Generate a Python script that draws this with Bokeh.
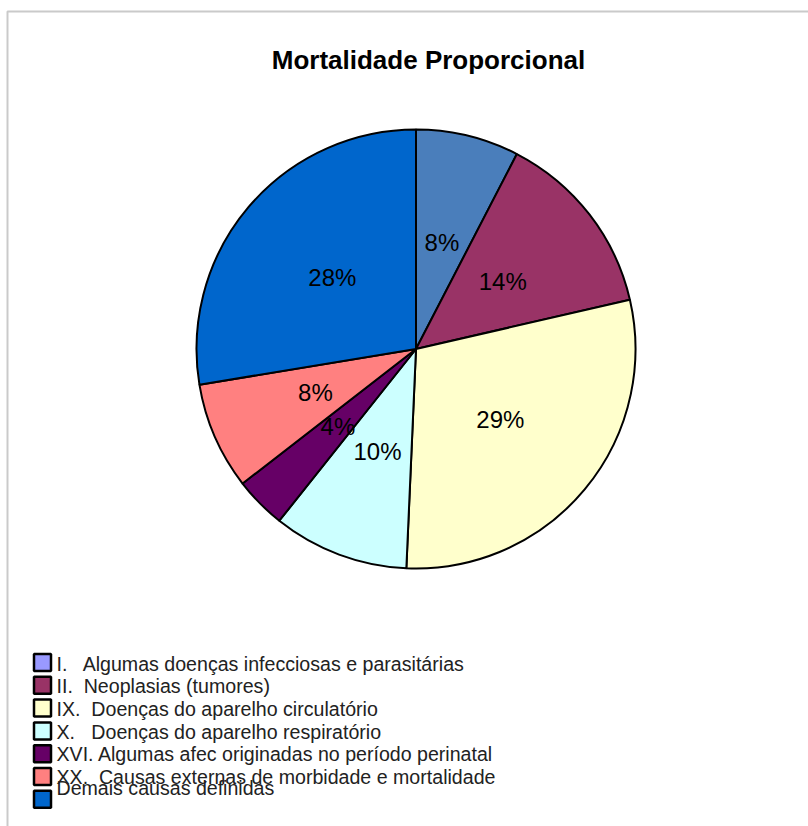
import math
import re
from bokeh.plotting import figure
from bokeh.models import Range1d, ColumnDataSource
from bokeh.core.properties import value
from bokeh.embed import file_html
from bokeh.resources import INLINE

# ---- data ----
title = "Mortalidade Proporcional"
categories = [
    "I.   Algumas doenças infecciosas e parasitárias",
    "II.  Neoplasias (tumores)",
    "IX.  Doenças do aparelho circulatório",
    "X.   Doenças do aparelho respiratório",
    "XVI. Algumas afec originadas no período perinatal",
    "XX.  Causas externas de morbidade e mortalidade",
    "Demais causas definidas",
]
shares = [7.6, 13.8, 29.3, 10.0, 3.8, 7.9, 27.6]
slice_colors = ["#4A7EBB", "#993366", "#FFFFCC", "#CCFFFF", "#660066", "#FF8080", "#0066CC"]
legend_colors = ["#9999FF", "#993366", "#FFFFCC", "#CCFFFF", "#660066", "#FF8080", "#0066CC"]

W, H = 808, 826
FONT = "Liberation Sans"

def Y(py):
    return H - py

def keep_spaces(s):
    # keep runs of spaces visible in SVG text
    return re.sub(r" {2,}", lambda m: "\u00a0" * (len(m.group(0)) - 1) + " ", s)

p = figure(width=W, height=H, x_range=Range1d(0, W), y_range=Range1d(0, H),
           x_axis_type=None, y_axis_type=None, toolbar_location=None,
           output_backend="svg", min_border=0)
p.grid.visible = False
p.outline_line_color = None
p.background_fill_color = "white"
p.border_fill_color = "white"

# frame
p.line(x=[7, 7, W], y=[Y(H), Y(11), Y(11)], line_color="#CACACA", line_width=2)

# ---- pie ----
cx, cy, R = 415.5, Y(348.5), 219.5
total = sum(shares)
starts, ends, lx, ly, labels = [], [], [], [], []
cum = 0.0
for s in shares:
    a0 = math.pi / 2 - 2 * math.pi * cum / total
    a1 = math.pi / 2 - 2 * math.pi * (cum + s) / total
    mid = (a0 + a1) / 2
    starts.append(a0)
    ends.append(a1)
    lx.append(cx + 0.5 * R * math.cos(mid))
    ly.append(cy + 0.5 * R * math.sin(mid))
    labels.append(f"{round(100 * s / total)}%")
    cum += s

src = ColumnDataSource(dict(start=starts, end=ends, color=slice_colors,
                            lx=lx, ly=ly, label=labels))
p.wedge(x=cx, y=cy, radius=R, start_angle="start", end_angle="end",
        direction="clock", fill_color="color", line_color="black",
        line_width=2, source=src)
p.text(x="lx", y="ly", text="label", source=src, text_font=value(FONT),
       text_font_size="24px", text_color="black", text_align="center",
       text_baseline="middle")

# ---- title ----
p.text(x=[428], y=[Y(59)], text=[title], text_font=value(FONT),
       text_font_size="26px", text_font_style="bold", text_color="black",
       text_align="center", text_baseline="alphabetic")

# ---- legend ----
n = len(categories)
sw_y = [Y(662 + 22.8 * i) for i in range(n)]
tx_y = [Y(663 + 22.7 * i) for i in range(n - 1)] + [Y(787)]
p.rect(x=[42] * n, y=sw_y, width=17, height=17, fill_color=legend_colors,
       line_color="black", line_width=2.5)
p.text(x=[56] * n, y=tx_y, text=[keep_spaces(c) for c in categories],
       text_font=value(FONT), text_font_size="19.6px", text_color="#222222",
       text_align="left", text_baseline="middle")

open("out.html", "w").write(file_html(p, INLINE))
